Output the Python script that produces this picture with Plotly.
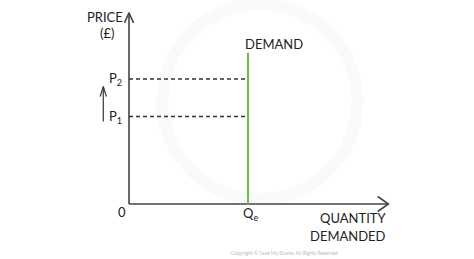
import plotly.graph_objects as go

# Data (economic units)
Q_E = 5.0            # equilibrium quantity (vertical demand)
P1 = 3.5             # initial price
P2 = 5.0             # higher price
DEMAND_TOP = 6.05
X_MAX = 10.9
Y_MAX = 7.65
price_labels = ["P<sub>1</sub>", "P<sub>2</sub>"]

# pixel scale helpers (origin at 129,204 px)
W, H = 474, 259
OX, OY = 129, 204
SX, SY = 23.8, 25.0
x_range = [(0 - OX) / SX, (W - OX) / SX]
y_range = [(OY - H) / SY, OY / SY]

fig = go.Figure()
axis_col = "#444444"
font = dict(family="Lato, DejaVu Sans, sans-serif", size=13, color="#222222")

def line(xs, ys, color=axis_col, width=1.6, dash=None):
    fig.add_trace(go.Scatter(x=xs, y=ys, mode="lines", hoverinfo="skip",
                             line=dict(color=color, width=width, dash=dash),
                             showlegend=False))

# very faint watermark circle
fig.add_shape(type="circle", x0=Q_E - 3.6, x1=Q_E + 4.6, y0=0.2, y1=8.0,
              line=dict(color="#f8fafc", width=12), layer="below")

# axes
line([0, 0], [0, Y_MAX])
line([0, X_MAX], [0, 0])
# arrowheads
ah_x, ah_y = 0.16, 0.45
line([-ah_x * 1.2, 0, ah_x * 1.2], [Y_MAX - ah_y * 0.9, Y_MAX, Y_MAX - ah_y * 0.9])
line([X_MAX - 0.45, X_MAX, X_MAX - 0.45], [0.3, 0, -0.3])

# dashed price lines
for p in (P1, P2):
    line([0, Q_E], [p, p], color="#333333", width=1.3, dash="4px,3px")

# demand curve
line([Q_E, Q_E], [0, DEMAND_TOP], color="#6abf3e", width=2)

# up arrow near price labels
ax = -1.08
line([ax, ax], [P1 - 0.2, P2 - 0.3], width=1.3)
line([ax - 0.13, ax, ax + 0.13], [P2 - 0.7, P2 - 0.3, P2 - 0.7], width=1.3)

ann = [
    dict(x=-0.15, y=7.5, text="PRICE", xanchor="right"),
    dict(x=-0.55, y=6.85, text="(£)", xanchor="right"),
    dict(x=-0.2, y=P2, text=price_labels[1], xanchor="right"),
    dict(x=-0.2, y=P1, text=price_labels[0], xanchor="right"),
    dict(x=-0.28, y=-0.3, text="0", xanchor="center"),
    dict(x=Q_E + 0.1, y=-0.38, text="Q<sub>e</sub>", xanchor="center"),
    dict(x=Q_E - 0.2, y=6.4, text="DEMAND", xanchor="left"),
    dict(x=X_MAX, y=-0.55, text="QUANTITY", xanchor="right"),
    dict(x=X_MAX, y=-1.27, text="DEMANDED", xanchor="right"),
]
for a in ann:
    fig.add_annotation(x=a["x"], y=a["y"], text=a["text"], xanchor=a["xanchor"],
                       yanchor="middle", showarrow=False, font=font)
fig.add_annotation(x=6.55, y=-1.95, text="Copyright © Save My Exams. All Rights Reserved",
                   showarrow=False, font=dict(family="Lato, sans-serif", size=5, color="#bbbbbb"))

fig.update_layout(width=W, height=H, margin=dict(l=0, r=0, t=0, b=0),
                  paper_bgcolor="white", plot_bgcolor="white",
                  xaxis=dict(range=x_range, visible=False, fixedrange=True),
                  yaxis=dict(range=y_range, visible=False, fixedrange=True))
fig.write_html("out.html")
